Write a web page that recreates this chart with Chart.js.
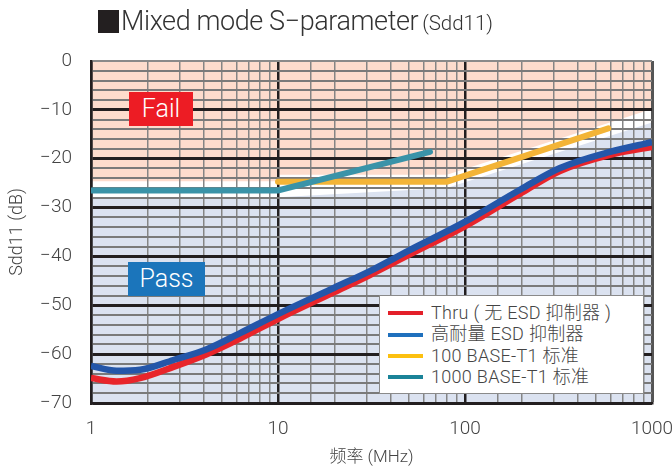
<!DOCTYPE html>
<html>
<head>
<meta charset="utf-8">
<script src="https://cdn.jsdelivr.net/npm/chart.js@4"></script>
<style>
  html, body { margin: 0; padding: 0; background: #fff; }
  #wrap { position: relative; width: 672px; height: 468px; overflow: hidden; font-family: Roboto, "Noto Sans CJK SC", sans-serif; }
  #c { position: absolute; left: 0; top: 0; }
  #sq { position: absolute; left: 98px; top: 10px; width: 21px; height: 23px; background: #231f20; }
  #title { position: absolute; left: 121px; top: 5px; height: 32px; line-height: 32px; color: #333; white-space: nowrap; font-weight: 300; }
  #title .main { font-size: 27px; letter-spacing: -0.4px; }
  #title .sub { font-size: 20.5px; }
  .tag { position: absolute; color: #fff; font-size: 25px; font-weight: 300; text-align: center; }
  #fail { left: 129px; top: 92px; width: 64px; height: 34px; line-height: 34px; background: #ed1c24; }
  #pass { left: 128px; top: 262px; width: 77px; height: 34px; line-height: 34px; background: #1b75bb; }
  #legend { position: absolute; left: 379px; top: 295px; width: 265px; height: 99px; background: #fff; border: 1px solid #8a8a8a; box-sizing: border-box; }
  #legend .row { position: absolute; left: 8px; height: 20px; line-height: 20px; font-size: 18px; letter-spacing: 0.3px; color: #444; white-space: nowrap; font-weight: 300; }
  #legend .sw { display: inline-block; width: 35px; height: 4px; vertical-align: middle; margin-right: 8px; position: relative; top: -1px; }
</style>
</head>
<body>
<div id="wrap">
  <canvas id="c" width="672" height="468"></canvas>
  <div id="sq"></div>
  <div id="title"><span class="main">Mixed mode S−parameter</span> <span class="sub">(Sdd11)</span></div>
  <div id="fail" class="tag">Fail</div>
  <div id="pass" class="tag">Pass</div>
  <div id="legend"></div>
</div>
<script>
// ---- data ----
const freqDevice = [1, 1.37, 1.83, 2.76, 4.16, 6.27, 10, 20, 31, 50, 98, 200, 322, 596, 1000];
const thruValues = [-64.9, -65.6, -64.9, -62.6, -60.0, -56.8, -52.8, -47.3, -43.8, -39.7, -34.0, -27.0, -22.5, -19.2, -17.6];
const esdValues  = [-62.4, -63.4, -63.2, -61.2, -59.0, -55.7, -51.8, -46.4, -43.0, -38.8, -33.1, -26.2, -21.9, -18.6, -16.6];

const freq100 = [10, 80, 584];
const limit100 = [-24.7, -24.7, -13.8];

const freq1000 = [1, 10, 65];
const limit1000 = [-26.5, -26.5, -18.6];

const failEdgeFreq = [1, 10, 10, 80, 1000];
const failEdge = [-24.6, -24.6, -23.3, -23.3, -9.8];
const passEdgeFreq = [1, 10, 80, 1000];
const passEdge = [-27.9, -27.9, -26.0, -12.6];

const seriesNames = ['Thru ( 无 ESD 抑制器 )', '高耐量 ESD 抑制器', '100 BASE-T1 标准', '1000 BASE-T1 标准'];
const legendColors = ['#e3202a', '#1f70bd', '#fcc010', '#1a8398'];
const lineColors = ['#e8252b', '#2456a9', '#f3b437', '#3a93a8'];

const xTickLabels = ['1', '10', '100', '1000'];
const yTickLabels = ['0', '−10', '−20', '−30', '−40', '−50', '−60', '−70'];

const pts = (xs, ys) => xs.map((x, i) => ({x: x, y: ys[i]}));

// legend (HTML)
const lg = document.getElementById('legend');
seriesNames.forEach((n, i) => {
  const r = document.createElement('div');
  r.className = 'row';
  r.style.top = (7 + i * 21.3) + 'px';
  r.innerHTML = '<span class="sw" style="background:' + legendColors[i] + '"></span>' + n;
  lg.appendChild(r);
});

const isDecade = v => Math.abs(Math.log10(v) - Math.round(Math.log10(v))) < 1e-6;

new Chart(document.getElementById('c'), {
  type: 'line',
  data: {
    datasets: [
      { label: 'fail', data: pts(failEdgeFreq, failEdge), fill: 'end', backgroundColor: '#fddccd',
        borderColor: 'rgba(0,0,0,0)', borderWidth: 0, pointRadius: 0, tension: 0, order: 10 },
      { label: 'pass', data: pts(passEdgeFreq, passEdge), fill: 'start', backgroundColor: '#dbe2f0',
        borderColor: 'rgba(0,0,0,0)', borderWidth: 0, pointRadius: 0, tension: 0, order: 10 },
      { label: seriesNames[3], data: pts(freq1000, limit1000), borderColor: lineColors[3], borderWidth: 6,
        pointRadius: 0, tension: 0, fill: false, order: 4, borderCapStyle: 'round' },
      { label: seriesNames[2], data: pts(freq100, limit100), borderColor: lineColors[2], borderWidth: 6,
        pointRadius: 0, tension: 0, fill: false, order: 5, borderCapStyle: 'round' },
      { label: seriesNames[0], data: pts(freqDevice, thruValues), borderColor: lineColors[0], borderWidth: 6.5,
        pointRadius: 0, cubicInterpolationMode: 'monotone', fill: false, order: 3 },
      { label: seriesNames[1], data: pts(freqDevice, esdValues), borderColor: lineColors[1], borderWidth: 6.5,
        pointRadius: 0, cubicInterpolationMode: 'monotone', fill: false, order: 2 }
    ]
  },
  options: {
    responsive: false,
    animation: false,
    events: [],
    layout: { padding: { top: 61, right: 20, bottom: 0, left: 0 } },
    plugins: {
      legend: { display: false },
      tooltip: { enabled: false },
      filler: { drawTime: 'beforeDraw' }
    },
    scales: {
      x: {
        type: 'logarithmic', min: 1, max: 1000,
        afterFit: s => { s.height = 65; s.paddingLeft = 0; s.paddingRight = 0; },
        grid: {
          drawTicks: false,
          color: c => { const v = c.tick.value; if (v === 1000) return '#555'; return isDecade(v) ? '#231f20' : '#858585'; },
          lineWidth: c => { const v = c.tick.value; if (v === 1000) return 3; return isDecade(v) ? 2.5 : 1.5; }
        },
        border: { display: true, color: '#231f20', width: 2.5 },
        ticks: {
          autoSkip: false, maxRotation: 0, padding: 15, color: '#444',
          font: { family: 'Roboto', size: 19, weight: 300 },
          callback: (v) => isDecade(v) ? xTickLabels[Math.round(Math.log10(v))] : ''
        },
        title: { display: true, text: '频率 (MHz)', color: '#444', padding: { top: 0, bottom: 0 },
          font: { family: 'Roboto, "Noto Sans CJK SC"', size: 17, weight: 300 } }
      },
      y: {
        type: 'linear', min: -70, max: 0,
        afterFit: s => { s.width = 91; s.paddingTop = 0; s.paddingBottom = 0; },
        grid: {
          drawTicks: false,
          color: c => { const v = c.tick.value; if (v === 0) return '#8a8a8a'; return v % 10 === 0 ? '#231f20' : '#7a7a7a'; },
          lineWidth: c => { const v = c.tick.value; if (v === 0) return 2; return v % 10 === 0 ? 3 : 2; }
        },
        border: { display: true, color: '#231f20', width: 2.5 },
        ticks: {
          stepSize: 2, autoSkip: false, padding: 19, color: '#444',
          font: { family: 'Roboto', size: 19, weight: 300 },
          callback: (v) => (v % 10 === 0) ? yTickLabels[Math.round(-v / 10)] : ''
        },
        title: { display: true, text: 'Sdd11 (dB)', color: '#444', padding: { top: 7, bottom: 0 },
          font: { family: 'Roboto', size: 18, weight: 300 } }
      }
    }
  }
});
</script>
</body>
</html>
